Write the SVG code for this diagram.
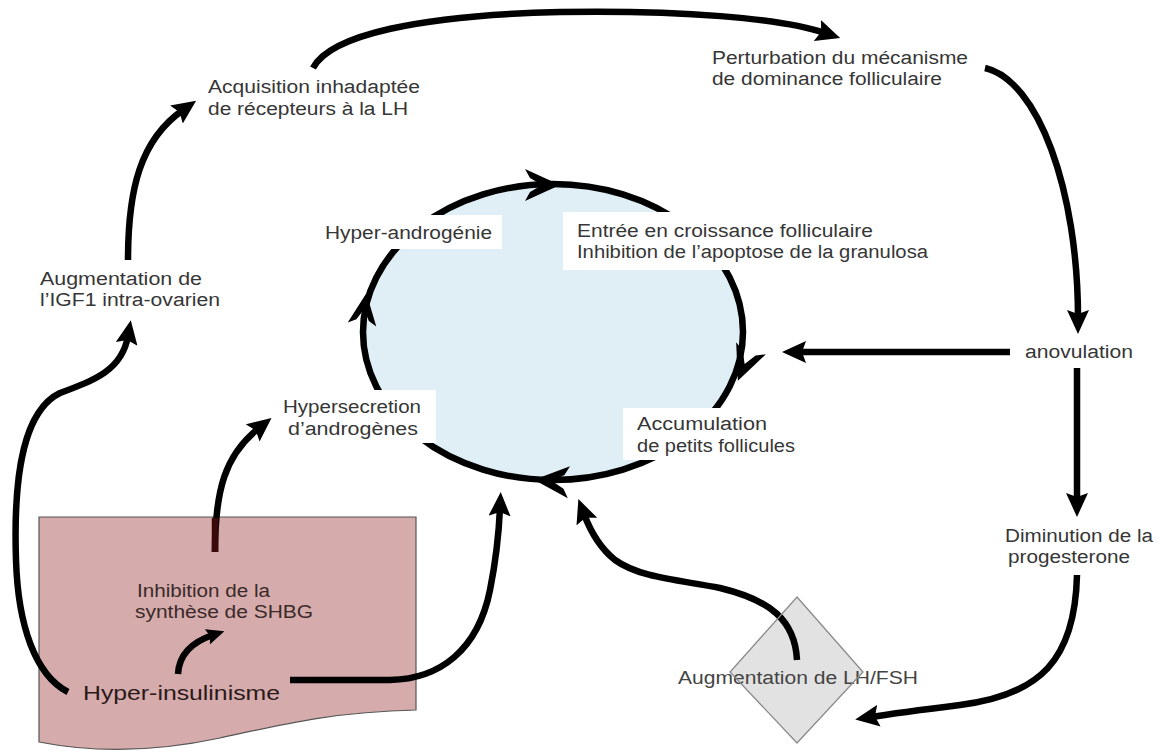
<svg xmlns="http://www.w3.org/2000/svg" width="1163" height="754" viewBox="0 0 1163 754">
<style>
.t{font-family:"Liberation Sans",Arial,sans-serif;font-size:18px;fill:#363636}
.c{fill:none;stroke:#000;stroke-width:6.5}
.lbl{fill:#fff}
</style>
<defs>
<marker id="ah" viewBox="0 0 24 22" refX="8" refY="11" markerWidth="24" markerHeight="22" markerUnits="userSpaceOnUse" orient="auto"><path d="M0,0 L24,11 L0,22 L4,11 Z" fill="#000"/></marker>
<marker id="ahs" viewBox="0 0 18 16" refX="6" refY="8" markerWidth="18" markerHeight="16" markerUnits="userSpaceOnUse" orient="auto"><path d="M0,0 L18,8 L0,16 L3,8 Z" fill="#000"/></marker>
<path id="ch" d="M3,0 L-32,-16 L-27,-7 L-15,0 L-27,7 L-32,16 Z" fill="#000"/>
</defs>
<rect width="1163" height="754" fill="#fff"/>

<g id="cycle">
<ellipse cx="553" cy="332" rx="190" ry="148" fill="#e0eff5" stroke="#000" stroke-width="6.5"/>
<use href="#ch" transform="translate(557,185) rotate(0)"/>
<use href="#ch" transform="translate(739,378) rotate(112)"/>
<use href="#ch" transform="translate(537,480) rotate(184)"/>
<use href="#ch" transform="translate(366,296) rotate(-82) scale(0.9)"/>
</g>

<g id="diamond">
<polygon points="797,597 863,672 797,743 730,672" fill="#e2e2e2"/>
</g>

<g id="pinkbox">
<path d="M39,517 H416 V710 C 330,712 280,725 220,738 C 150,753 90,752 39,742 Z" fill="#d5abab" stroke="#555" stroke-width="1.2"/>
</g>

<g id="connectors">
<path class="c" d="M313,68 C 330,35 420,15 560,12 C 680,10 780,18 825,33" marker-end="url(#ah)"/>
<path class="c" d="M985,68 C 1038,80 1078,190 1078,318" marker-end="url(#ah)"/>
<path class="c" d="M1010,352 L798,352" marker-end="url(#ah)"/>
<path class="c" d="M1077,368 L1077,501" marker-end="url(#ah)"/>
<path class="c" d="M1077,575 C 1075,660 1040,695 960,705 C 920,710 890,714 871,717" marker-end="url(#ah)"/>
<path class="c" d="M128,260 C 128,190 140,140 183,110" marker-end="url(#ah)"/>
<path class="c" d="M68,692 C 35,675 18,625 16,560 C 13,470 25,410 60,393 C 95,380 122,370 128,336" marker-end="url(#ah)"/>
<path class="c" d="M215,552 C 215,490 225,455 259,428" marker-end="url(#ah)"/>
<path d="M215,518 L215,552" stroke="#3a0a0a" stroke-width="6.5" fill="none"/>
<path class="c" d="M178,674 C 179,655 192,642 213,635" stroke-width="5" marker-end="url(#ahs)"/>
<path class="c" d="M290,680 L390,680 C 440,679 478,650 490,590 C 496,560 499,530 500,508" marker-end="url(#ah)"/>
<path class="c" d="M797,660 C 795,620 770,600 720,588 C 680,580 640,578 615,560 C 600,548 590,530 584,514" marker-end="url(#ah)"/>
</g>

<g id="n-acquisition">
<text class="t" x="208" y="93" textLength="212" lengthAdjust="spacingAndGlyphs">Acquisition inhadaptée</text>
<text class="t" x="208" y="115" textLength="200" lengthAdjust="spacingAndGlyphs">de récepteurs à la LH</text>
</g>
<g id="n-perturbation">
<text class="t" x="712" y="64" textLength="256" lengthAdjust="spacingAndGlyphs">Perturbation du mécanisme</text>
<text class="t" x="712" y="85" textLength="230" lengthAdjust="spacingAndGlyphs">de dominance folliculaire</text>
</g>
<g id="n-igf1">
<text class="t" x="40" y="285" textLength="162" lengthAdjust="spacingAndGlyphs">Augmentation de</text>
<text class="t" x="40" y="306" textLength="180" lengthAdjust="spacingAndGlyphs">l’IGF1 intra-ovarien</text>
</g>
<g id="n-hyperandrogenie">
<rect class="lbl" x="315" y="215" width="187" height="34"/>
<text class="t" x="325" y="239" textLength="167" lengthAdjust="spacingAndGlyphs">Hyper-androgénie</text>
</g>
<g id="n-entree">
<rect class="lbl" x="563" y="212" width="385" height="58"/>
<text class="t" x="577" y="237" textLength="296" lengthAdjust="spacingAndGlyphs">Entrée en croissance folliculaire</text>
<text class="t" x="577" y="258" textLength="351" lengthAdjust="spacingAndGlyphs">Inhibition de l’apoptose de la granulosa</text>
</g>
<g id="n-hypersecretion">
<rect class="lbl" x="276" y="390" width="160" height="53"/>
<text class="t" x="283" y="413" textLength="138" lengthAdjust="spacingAndGlyphs">Hypersecretion</text>
<text class="t" x="288" y="435" textLength="130" lengthAdjust="spacingAndGlyphs">d’androgènes</text>
</g>
<g id="n-accumulation">
<rect class="lbl" x="623" y="408" width="185" height="52"/>
<text class="t" x="637" y="430" textLength="130" lengthAdjust="spacingAndGlyphs">Accumulation</text>
<text class="t" x="637" y="452" textLength="158" lengthAdjust="spacingAndGlyphs">de petits follicules</text>
</g>
<g id="n-anovulation">
<text class="t" x="1025" y="358" textLength="108" lengthAdjust="spacingAndGlyphs">anovulation</text>
</g>
<g id="n-progesterone">
<text class="t" x="1005" y="542" textLength="148" lengthAdjust="spacingAndGlyphs">Diminution de la</text>
<text class="t" x="1008" y="563" textLength="122" lengthAdjust="spacingAndGlyphs">progesterone</text>
</g>
<g id="n-lhfsh">
<text class="t" x="678" y="684" textLength="240" lengthAdjust="spacingAndGlyphs" style="fill:#444">Augmentation de LH/FSH</text>
<polygon points="797,597 863,672 797,743 730,672" fill="none" stroke="#8a8a8a" stroke-width="1.3"/>
</g>
<g id="n-shbg">
<text class="t" x="137" y="597" textLength="133" lengthAdjust="spacingAndGlyphs" style="fill:#3a2a2a">Inhibition de la</text>
<text class="t" x="135" y="618" textLength="178" lengthAdjust="spacingAndGlyphs" style="fill:#3a2a2a">synthèse de SHBG</text>
</g>
<g id="n-hyperinsulinisme">
<text class="t" x="83" y="700" textLength="197" lengthAdjust="spacingAndGlyphs" style="font-size:21px;fill:#2b1a1a">Hyper-insulinisme</text>
</g>
</svg>
